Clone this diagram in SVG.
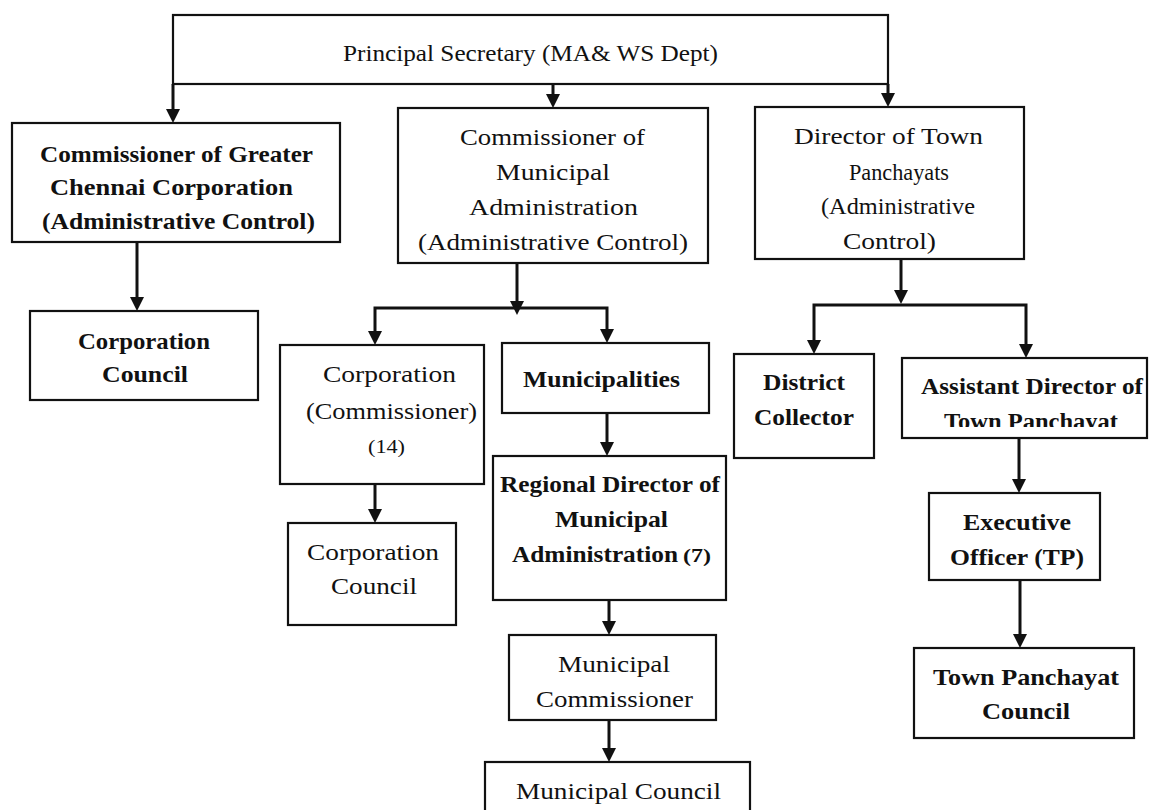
<svg xmlns="http://www.w3.org/2000/svg" width="1149" height="810" viewBox="0 0 1149 810">
<style>
  .box { fill: #fff; stroke: #111; stroke-width: 2.2; }
  .frame { fill: none; stroke: #111; stroke-width: 2.2; }
  .con { fill: none; stroke: #111; stroke-width: 3; }
  text { font-family: "Liberation Serif", "Times New Roman", serif; font-size: 24px; fill: #111; }
  .b { font-weight: bold; }
  .sm { font-size: 18px; }
</style>
<defs>
  <marker id="ah" markerUnits="userSpaceOnUse" markerWidth="14" markerHeight="14" viewBox="0 0 14 14" refX="10" refY="7" orient="auto">
    <path d="M0,0 L14,7 L0,14 z" fill="#111"/>
  </marker>
  <clipPath id="adclip"><rect x="900" y="356" width="249" height="71"/></clipPath>
</defs>

<g id="connectors">
  <path class="con" d="M173,84 V119" marker-end="url(#ah)"/>
  <path class="con" d="M553,84 V104" marker-end="url(#ah)"/>
  <path class="con" d="M888,84 V103" marker-end="url(#ah)"/>
  <path class="con" d="M137,242 V307" marker-end="url(#ah)"/>
  <path class="con" d="M517,263 V311" marker-end="url(#ah)"/>
  <path class="con" d="M517,308 H375 V341" marker-end="url(#ah)"/>
  <path class="con" d="M517,308 H607 V339" marker-end="url(#ah)"/>
  <path class="con" d="M375,484 V519" marker-end="url(#ah)"/>
  <path class="con" d="M607,413 V452" marker-end="url(#ah)"/>
  <path class="con" d="M609,600 V631" marker-end="url(#ah)"/>
  <path class="con" d="M609,720 V758" marker-end="url(#ah)"/>
  <path class="con" d="M901,259 V300" marker-end="url(#ah)"/>
  <path class="con" d="M901,305 H814 V350" marker-end="url(#ah)"/>
  <path class="con" d="M901,305 H1026 V354" marker-end="url(#ah)"/>
  <path class="con" d="M1019,438 V489" marker-end="url(#ah)"/>
  <path class="con" d="M1020,580 V644" marker-end="url(#ah)"/>
</g>

<g id="principal-secretary">
  <rect class="frame" x="173" y="15" width="715" height="69"/>
  <text x="343" y="61" textLength="375" lengthAdjust="spacingAndGlyphs">Principal Secretary (MA&amp; WS Dept)</text>
</g>

<g id="commissioner-gcc">
  <rect class="box" x="12" y="123" width="328" height="119"/>
  <text class="b" x="40" y="162" textLength="273" lengthAdjust="spacingAndGlyphs">Commissioner of Greater</text>
  <text class="b" x="50" y="195" textLength="243" lengthAdjust="spacingAndGlyphs">Chennai Corporation</text>
  <text class="b" x="42" y="229" textLength="273" lengthAdjust="spacingAndGlyphs">(Administrative Control)</text>
</g>

<g id="corporation-council-1">
  <rect class="box" x="30" y="311" width="228" height="89"/>
  <text class="b" x="78" y="349" textLength="132" lengthAdjust="spacingAndGlyphs">Corporation</text>
  <text class="b" x="102" y="382" textLength="86" lengthAdjust="spacingAndGlyphs">Council</text>
</g>

<g id="commissioner-ma">
  <rect class="box" x="398" y="108" width="310" height="155"/>
  <text x="460" y="145" textLength="185" lengthAdjust="spacingAndGlyphs">Commissioner of</text>
  <text x="496" y="180" textLength="114" lengthAdjust="spacingAndGlyphs">Municipal</text>
  <text x="469" y="215" textLength="169" lengthAdjust="spacingAndGlyphs">Administration</text>
  <text x="418" y="250" textLength="270" lengthAdjust="spacingAndGlyphs">(Administrative Control)</text>
</g>

<g id="director-tp">
  <rect class="box" x="755" y="107" width="269" height="152"/>
  <text x="794" y="144" textLength="189" lengthAdjust="spacingAndGlyphs">Director of Town</text>
  <text x="849" y="180" textLength="100" lengthAdjust="spacingAndGlyphs">Panchayats</text>
  <text x="821" y="214" textLength="154" lengthAdjust="spacingAndGlyphs">(Administrative</text>
  <text x="843" y="249" textLength="93" lengthAdjust="spacingAndGlyphs">Control)</text>
</g>

<g id="corporation-commissioner">
  <rect class="box" x="280" y="345" width="204" height="139"/>
  <text x="323" y="382" textLength="133" lengthAdjust="spacingAndGlyphs">Corporation</text>
  <text x="306" y="419" textLength="171" lengthAdjust="spacingAndGlyphs">(Commissioner)</text>
  <text class="sm" x="368" y="453" textLength="37" lengthAdjust="spacingAndGlyphs">(14)</text>
</g>

<g id="municipalities">
  <rect class="box" x="502" y="343" width="207" height="70"/>
  <text class="b" x="523" y="387" textLength="157" lengthAdjust="spacingAndGlyphs">Municipalities</text>
</g>

<g id="corporation-council-2">
  <rect class="box" x="288" y="523" width="168" height="102"/>
  <text x="307" y="560" textLength="132" lengthAdjust="spacingAndGlyphs">Corporation</text>
  <text x="331" y="594" textLength="86" lengthAdjust="spacingAndGlyphs">Council</text>
</g>

<g id="regional-director">
  <rect class="box" x="493" y="456" width="233" height="144"/>
  <text class="b" x="500" y="492" textLength="220" lengthAdjust="spacingAndGlyphs">Regional Director of</text>
  <text class="b" x="555" y="527" textLength="113" lengthAdjust="spacingAndGlyphs">Municipal</text>
  <text class="b" x="512" y="562" textLength="166" lengthAdjust="spacingAndGlyphs">Administration</text>
  <text class="sm b" x="683" y="562" textLength="28" lengthAdjust="spacingAndGlyphs">(7)</text>
</g>

<g id="municipal-commissioner">
  <rect class="box" x="509" y="635" width="207" height="85"/>
  <text x="558" y="672" textLength="112" lengthAdjust="spacingAndGlyphs">Municipal</text>
  <text x="536" y="707" textLength="157" lengthAdjust="spacingAndGlyphs">Commissioner</text>
</g>

<g id="municipal-council">
  <rect class="box" x="485" y="762" width="265" height="52"/>
  <text x="516" y="799" textLength="205" lengthAdjust="spacingAndGlyphs">Municipal Council</text>
</g>

<g id="district-collector">
  <rect class="box" x="734" y="354" width="140" height="104"/>
  <text class="b" x="763" y="390" textLength="82" lengthAdjust="spacingAndGlyphs">District</text>
  <text class="b" x="754" y="425" textLength="100" lengthAdjust="spacingAndGlyphs">Collector</text>
</g>

<g id="assistant-director">
  <rect class="box" x="902" y="358" width="245" height="80"/>
  <text class="b" x="921" y="394" textLength="222" lengthAdjust="spacingAndGlyphs">Assistant Director of</text>
  <text class="b" x="944" y="429" textLength="174" lengthAdjust="spacingAndGlyphs" clip-path="url(#adclip)">Town Panchayat</text>
</g>

<g id="executive-officer">
  <rect class="box" x="929" y="493" width="171" height="87"/>
  <text class="b" x="963" y="530" textLength="108" lengthAdjust="spacingAndGlyphs">Executive</text>
  <text class="b" x="950" y="565" textLength="134" lengthAdjust="spacingAndGlyphs">Officer (TP)</text>
</g>

<g id="town-panchayat-council">
  <rect class="box" x="914" y="648" width="220" height="90"/>
  <text class="b" x="933" y="685" textLength="186" lengthAdjust="spacingAndGlyphs">Town Panchayat</text>
  <text class="b" x="982" y="719" textLength="88" lengthAdjust="spacingAndGlyphs">Council</text>
</g>
</svg>
